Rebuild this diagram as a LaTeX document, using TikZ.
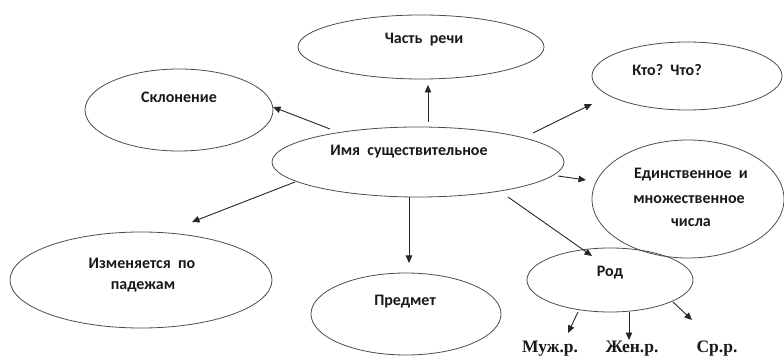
\documentclass[tikz,border=0pt]{standalone}
\usepackage{fontspec}
\setmainfont{Carlito}
\newfontfamily\serifb{Liberation Serif}
\usetikzlibrary{shapes.geometric,arrows.meta}
\begin{document}
\begin{tikzpicture}[x=1pt,y=1pt,
  oval/.style={ellipse,draw=black!70,line width=0.8pt,inner sep=0pt},
  lbl/.style={font=\fontsize{16}{18}\selectfont\bfseries,text=black!90,align=center},
  sub/.style={font=\serifb\fontsize{17.5}{19}\selectfont\bfseries,text=black!90},
  arr/.style={-{Triangle[length=7.5pt,width=6.5pt]},line width=0.9pt,black!85}]
\useasboundingbox (0,0) rectangle (784,356);
% ellipses
\node[oval,minimum width=246pt,minimum height=64pt] (chast) at (421,309) {};
\node[oval,minimum width=188pt,minimum height=82pt] (sklon) at (179,246) {};
\node[oval,minimum width=292pt,minimum height=70pt] (main) at (418,194) {};
\node[oval,minimum width=190pt,minimum height=68pt] (kto) at (687,280) {};
\node[oval,minimum width=192pt,minimum height=118pt] (ed) at (688,157) {};
\node[oval,minimum width=262pt,minimum height=96pt] (izm) at (141,76) {};
\node[oval,minimum width=190pt,minimum height=82pt] (pred) at (406,42) {};
\node[oval,minimum width=166pt,minimum height=64pt] (rod) at (610,76) {};
% texts
\node[lbl] (tchast) at (424,316) {Часть\ \ речи};
\node[lbl] (tsklon) at (179,259) {Склонение};
\node[lbl] (tmain) at (409,204) {Имя\ \ существительное};
\node[lbl] (tkto) at (667,286) {Кто?\ \ Что?};
\node[lbl] (ted1) at (691,181) {Единственное\ \ и};
\node[lbl] (ted2) at (689,156) {множественное};
\node[lbl] (ted3) at (691,133) {числа};
\node[lbl] (tizm1) at (142,93) {Изменяется\ \ по};
\node[lbl] (tizm2) at (143,69) {падежам};
\node[lbl] (tpred) at (405,54) {Предмет};
\node[lbl] (trod) at (610,83) {Род};
\node[sub] (muzh) at (550,7) {Муж.р.};
\node[sub] (zhen) at (632,7) {Жен.р.};
\node[sub] (sr) at (717,7) {Ср.р.};
% arrow endpoints
\coordinate (a1s) at (428,234); \coordinate (a1e) at (428,271);
\coordinate (a2s) at (330,227); \coordinate (a2e) at (273,249);
\coordinate (a3s) at (533,223); \coordinate (a3e) at (592,252);
\coordinate (a4s) at (558,180); \coordinate (a4e) at (586,176);
\coordinate (a5s) at (295,174); \coordinate (a5e) at (192,134);
\coordinate (a6s) at (409,159); \coordinate (a6e) at (409,93);
\coordinate (a7s) at (508,159); \coordinate (a7e) at (592,100);
\coordinate (b1s) at (578,44); \coordinate (b1e) at (568,23);
\coordinate (b2s) at (629,44); \coordinate (b2e) at (629,16);
\coordinate (b3s) at (673,54); \coordinate (b3e) at (692,36);
\draw[arr] (a1s) -- (a1e);
\draw[arr] (a2s) -- (a2e);
\draw[arr] (a3s) -- (a3e);
\draw[arr] (a4s) -- (a4e);
\draw[arr] (a5s) -- (a5e);
\draw[arr] (a6s) -- (a6e);
\draw[arr] (a7s) -- (a7e);
\draw[arr] (b1s) -- (b1e);
\draw[arr] (b2s) -- (b2e);
\draw[arr] (b3s) -- (b3e);
\end{tikzpicture}
\end{document}
